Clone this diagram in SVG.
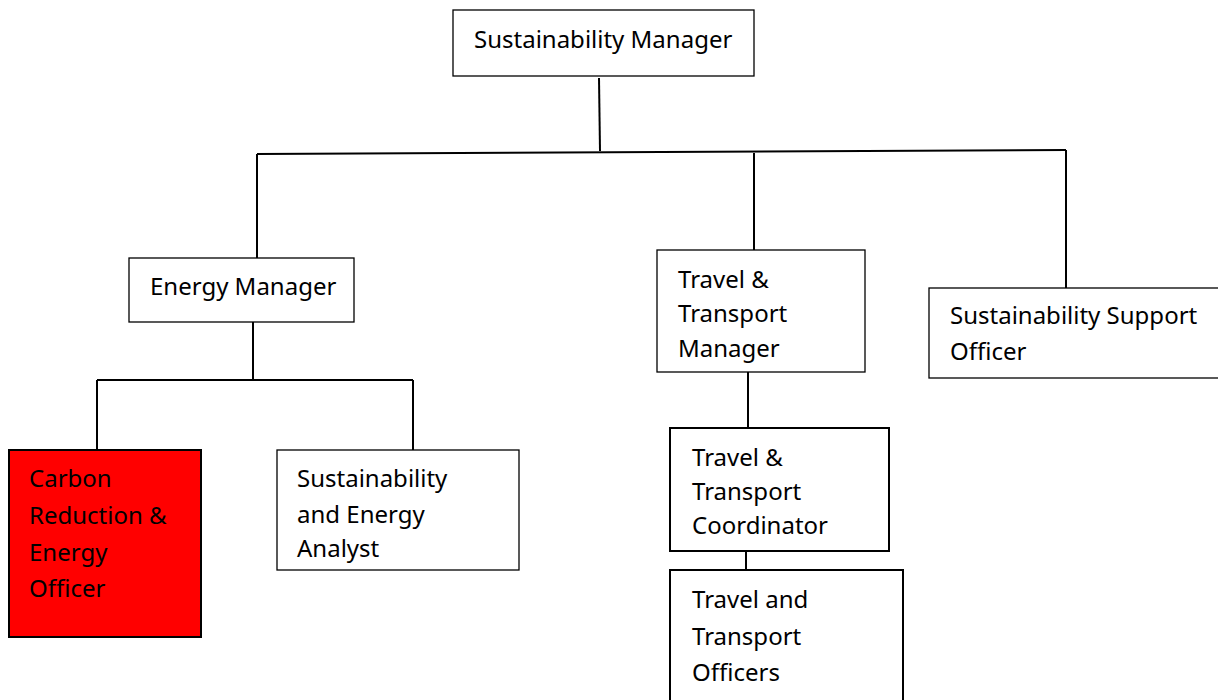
<svg xmlns="http://www.w3.org/2000/svg" width="1218" height="700" viewBox="0 0 1218 700">
  <style>
    .box { fill: #ffffff; stroke: #000000; stroke-width: 1.3; }
    .box.thick { stroke-width: 2; }
    .box.red { fill: #ff0000; stroke-width: 2; }
    .label { font-family: "Noto Sans", "Liberation Sans", sans-serif; font-size: 24px; fill: #000000; }
    .wire { stroke: #000000; stroke-width: 2; fill: none; }
  </style>
  <rect width="1218" height="700" fill="#ffffff"/>

  <g id="connectors">
    <line class="wire" x1="599" y1="78" x2="600" y2="151"/>
    <line class="wire" x1="257" y1="154" x2="1066" y2="150"/>
    <line class="wire" x1="257" y1="154" x2="257" y2="258"/>
    <line class="wire" x1="754" y1="153" x2="754" y2="250"/>
    <line class="wire" x1="1066" y1="150" x2="1066" y2="289"/>
    <line class="wire" x1="253" y1="322" x2="253" y2="380"/>
    <line class="wire" x1="97" y1="380" x2="413" y2="380"/>
    <line class="wire" x1="97" y1="380" x2="97" y2="450"/>
    <line class="wire" x1="413" y1="380" x2="413" y2="450"/>
    <line class="wire" x1="748" y1="372" x2="748" y2="428"/>
    <line class="wire" x1="746" y1="551" x2="746" y2="570"/>
  </g>

  <g id="sustainability-manager">
    <rect class="box" x="453" y="10" width="301" height="66"/>
    <text class="label" x="474" y="48">Sustainability Manager</text>
  </g>

  <g id="energy-manager">
    <rect class="box" x="129" y="258" width="225" height="64"/>
    <text class="label" x="150" y="295">Energy Manager</text>
  </g>

  <g id="carbon-reduction-officer">
    <rect class="box red" x="9" y="450" width="192" height="187"/>
    <text class="label" x="29" y="487">Carbon</text>
    <text class="label" x="29" y="524">Reduction &amp;</text>
    <text class="label" x="29" y="561">Energy</text>
    <text class="label" x="29" y="597">Officer</text>
  </g>

  <g id="energy-analyst">
    <rect class="box" x="277" y="450" width="242" height="120"/>
    <text class="label" x="297" y="487">Sustainability</text>
    <text class="label" x="297" y="523">and Energy</text>
    <text class="label" x="297" y="557">Analyst</text>
  </g>

  <g id="transport-manager">
    <rect class="box" x="657" y="250" width="208" height="122"/>
    <text class="label" x="678" y="288">Travel &amp;</text>
    <text class="label" x="678" y="322">Transport</text>
    <text class="label" x="678" y="357">Manager</text>
  </g>

  <g id="transport-coordinator">
    <rect class="box thick" x="670" y="428" width="219" height="123"/>
    <text class="label" x="692" y="466">Travel &amp;</text>
    <text class="label" x="692" y="500">Transport</text>
    <text class="label" x="692" y="534">Coordinator</text>
  </g>

  <g id="transport-officers">
    <rect class="box thick" x="670" y="570" width="233" height="140"/>
    <text class="label" x="692" y="608">Travel and</text>
    <text class="label" x="692" y="645">Transport</text>
    <text class="label" x="692" y="681">Officers</text>
  </g>

  <g id="support-officer">
    <rect class="box" x="929" y="288" width="300" height="90"/>
    <text class="label" x="950" y="324">Sustainability Support</text>
    <text class="label" x="950" y="360">Officer</text>
  </g>
</svg>
